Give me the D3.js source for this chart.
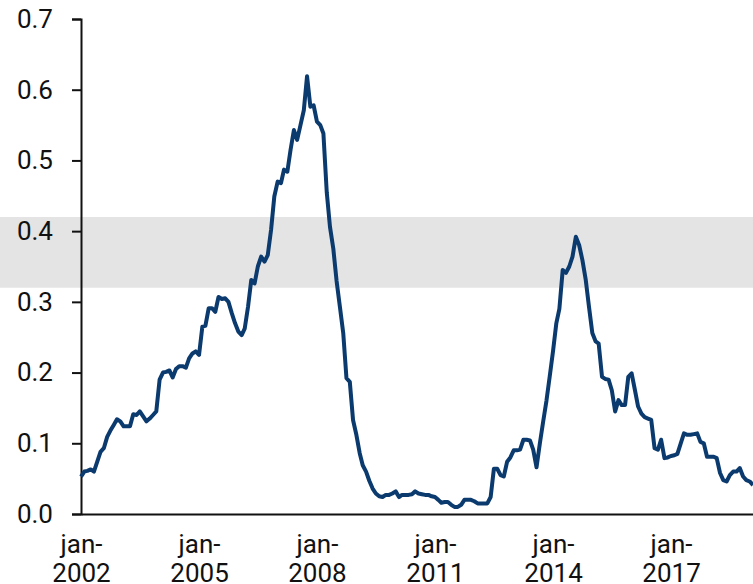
<!DOCTYPE html>
<html>
<head>
<meta charset="utf-8">
<script src="https://cdn.jsdelivr.net/npm/d3@7"></script>
<style>
  body { margin: 0; background: #fff; }
  svg { display: block; font-family: Roboto, sans-serif; }
</style>
</head>
<body>
<div id="chart"></div>
<script>
const width = 753;
const height = 584;

// monthly values, one row per year, starting jan-2002
const startDate = new Date(2002, 0, 1);
const values = [
  0.053, 0.060, 0.061, 0.063, 0.060, 0.074, 0.088, 0.093, 0.109, 0.118, 0.126, 0.134, // 2002
  0.131, 0.124, 0.124, 0.124, 0.141, 0.140, 0.145, 0.138, 0.131, 0.135, 0.140, 0.145, // 2003
  0.190, 0.200, 0.201, 0.203, 0.193, 0.205, 0.209, 0.209, 0.207, 0.220, 0.227, 0.230, // 2004
  0.225, 0.265, 0.266, 0.291, 0.291, 0.286, 0.307, 0.304, 0.305, 0.300, 0.284, 0.270, // 2005
  0.258, 0.253, 0.262, 0.293, 0.331, 0.326, 0.350, 0.364, 0.357, 0.366, 0.402, 0.449, // 2006
  0.470, 0.468, 0.487, 0.484, 0.515, 0.543, 0.529, 0.550, 0.571, 0.619, 0.576, 0.578, // 2007
  0.555, 0.550, 0.538, 0.455, 0.406, 0.375, 0.330, 0.293, 0.256, 0.192, 0.187, 0.133, // 2008
  0.112, 0.086, 0.069, 0.060, 0.047, 0.036, 0.029, 0.025, 0.024, 0.027, 0.027, 0.029, // 2009
  0.032, 0.024, 0.027, 0.027, 0.027, 0.028, 0.032, 0.029, 0.028, 0.027, 0.027, 0.025, // 2010
  0.024, 0.020, 0.016, 0.017, 0.017, 0.013, 0.010, 0.010, 0.013, 0.020, 0.020, 0.020, // 2011
  0.018, 0.015, 0.015, 0.015, 0.015, 0.024, 0.064, 0.064, 0.055, 0.053, 0.074, 0.080, // 2012
  0.090, 0.090, 0.091, 0.105, 0.105, 0.104, 0.091, 0.066, 0.100, 0.130, 0.160, 0.194, // 2013
  0.230, 0.270, 0.290, 0.345, 0.341, 0.350, 0.364, 0.392, 0.380, 0.359, 0.331, 0.293, // 2014
  0.256, 0.244, 0.241, 0.194, 0.191, 0.190, 0.175, 0.145, 0.161, 0.154, 0.154, 0.194, // 2015
  0.199, 0.175, 0.152, 0.142, 0.137, 0.135, 0.133, 0.093, 0.091, 0.105, 0.079, 0.080, // 2016
  0.082, 0.083, 0.085, 0.100, 0.114, 0.112, 0.112, 0.113, 0.114, 0.102, 0.100, 0.081, // 2017
  0.081, 0.081, 0.079, 0.058, 0.048, 0.046, 0.055, 0.060, 0.060, 0.065, 0.053, 0.048, // 2018
  0.046, 0.041                                                                        // 2019
];
const yTicks = [0, 0.1, 0.2, 0.3, 0.4, 0.5, 0.6, 0.7];
const xTickYears = [2002, 2005, 2008, 2011, 2014, 2017];
const band = [0.32, 0.42];

const data = values.map((v, i) => ({
  date: new Date(startDate.getFullYear(), startDate.getMonth() + i, 1),
  value: v,
}));

const x = d3
  .scaleTime()
  .domain([startDate, new Date(2019, 1, 1)])
  .range([81, 753]);

const y = d3.scaleLinear().domain([0, 0.7]).range([514, 19]);

const svg = d3
  .select('#chart')
  .append('svg')
  .attr('width', width)
  .attr('height', height);

/* Band
-----------------------------------------------------------------------------*/
svg
  .append('rect')
  .attr('x', 0)
  .attr('width', width)
  .attr('y', y(band[1]))
  .attr('height', y(band[0]) - y(band[1]))
  .attr('fill', '#e4e4e4');

/* Axes
-----------------------------------------------------------------------------*/
const yAxis = svg
  .append('g')
  .attr('transform', `translate(${x.range()[0]},0)`)
  .call(
    d3.axisLeft(y).tickValues(yTicks).tickFormat(d3.format('.1f')).tickSize(9).tickPadding(19)
  );
yAxis.select('.domain').attr('stroke', '#111').attr('stroke-width', 2);
yAxis.selectAll('.tick line').attr('stroke', '#111').attr('stroke-width', 2);
yAxis
  .selectAll('.tick text')
  .attr('font-size', 26)
  .attr('font-family', 'Roboto, sans-serif')
  .attr('fill', '#111');

const xAxis = svg
  .append('g')
  .attr('transform', `translate(0,${y(0)})`)
  .call(
    d3.axisBottom(x).tickValues(xTickYears.map((yr) => new Date(yr, 0, 1))).tickSize(0).tickFormat('')
  );
xAxis.select('.domain').attr('stroke', '#111').attr('stroke-width', 2);

xAxis.selectAll('.tick').each(function (d) {
  const t = d3
    .select(this)
    .append('text')
    .attr('text-anchor', 'middle')
    .attr('font-size', 26)
    .attr('font-family', 'Roboto, sans-serif')
    .attr('fill', '#111');
  t.append('tspan').attr('x', 0).attr('y', 39).text('jan-');
  t.append('tspan').attr('x', 0).attr('y', 67.5).text(d.getFullYear());
});

/* Line
-----------------------------------------------------------------------------*/
svg
  .append('path')
  .datum(data)
  .attr('fill', 'none')
  .attr('stroke', '#0b3a6e')
  .attr('stroke-width', 4)
  .attr('stroke-linejoin', 'round')
  .attr('d', d3.line().x((d) => x(d.date)).y((d) => y(d.value)));
</script>
</body>
</html>
